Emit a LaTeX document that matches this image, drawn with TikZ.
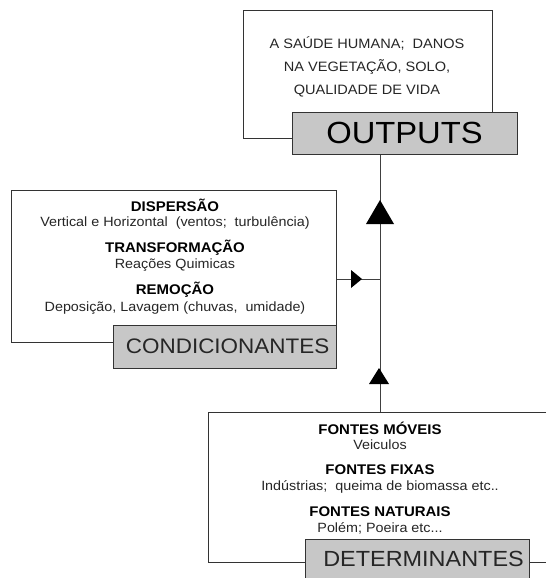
\documentclass[tikz,border=0pt]{standalone}
\usepackage{fontspec}
\setmainfont{Liberation Sans}[FakeStretch=1.07]
\usetikzlibrary{arrows.meta}
\begin{document}
\begin{tikzpicture}[x=1pt,y=-1pt,
  frame/.style={draw=black!80,line width=0.8pt,fill=white},
  label/.style={draw=black!80,line width=0.8pt,fill=black!22,inner sep=0pt},
  conn/.style={draw=black!75,line width=0.8pt},
  tri/.style={fill=black,draw=none},
  body/.style={align=center,font=\fontsize{13.4}{16}\selectfont,text=black!85,inner sep=0pt},
  bold/.style={align=center,font=\bfseries\fontsize{14}{17}\selectfont,inner sep=0pt}]
\useasboundingbox (0,0) rectangle (546,578);
\fill[white] (0,0) rectangle (546,578);

% connectors
\coordinate (jA) at (380,154);
\coordinate (jB) at (380,279);
\coordinate (jC) at (380,412);
\draw[conn] (jA) -- (jC);
\draw[conn] (336,279) -- (jB);

% top box
\draw[frame] (243,10) rectangle (492,138);
\node[align=center,font=\fontsize{13.6}{23}\selectfont,text=black!85] (outtxt) at (367,67)
 {A SAÚDE HUMANA;\ \ DANOS\\NA VEGETAÇÃO, SOLO,\\QUALIDADE DE VIDA};
\node[label,minimum width=225pt,minimum height=42pt,font=\fontsize{30.6}{32}\selectfont] (outputs) at (404.5,133) {OUTPUTS};

% condicionantes box
\draw[frame] (11,190) rectangle (336,342);
\node[bold] (disp) at (175,205) {DISPERSÃO};
\node[body] (vert) at (175,223) {Vertical e Horizontal\ \ (ventos;\ \ turbulência)};
\node[bold] (transf) at (175,248) {TRANSFORMAÇÃO};
\node[body] (reac) at (175,265) {Reações Quimicas};
\node[bold] (remo) at (175,290) {REMOÇÃO};
\node[body] (depo) at (175,308) {Deposição, Lavagem (chuvas,\ \ umidade)};
\node[label,minimum width=223pt,minimum height=43pt,font=\fontsize{21}{23}\selectfont,text=black!85] (cond) at (224.5,346.5) {\ CONDICIONANTES};

% determinantes box
\draw[frame] (546,412) -- (208,412) -- (208,562) -- (546,562);
\node[bold] (fm) at (380,428) {FONTES MÓVEIS};
\node[body] (vei) at (380,445) {Veiculos};
\node[bold] (ff) at (380,470) {FONTES FIXAS};
\node[body] (ind) at (380,487) {Indústrias;\ \ queima de biomassa etc..};
\node[bold] (fn) at (380,512) {FONTES NATURAIS};
\node[body] (pol) at (380,528) {Polém; Poeira etc...};
\node[label,minimum width=224pt,minimum height=40pt,font=\fontsize{21.9}{24}\selectfont,text=black!85] (det) at (417,559) {\ \ DETERMINANTES};

% arrowheads
\fill[tri] (380,200) -- (366,224) -- (394,224) -- cycle;
\fill[tri] (362,279) -- (351,270) -- (351,288) -- cycle;
\fill[tri] (379,368) -- (369,384) -- (389,384) -- cycle;
\end{tikzpicture}
\end{document}
